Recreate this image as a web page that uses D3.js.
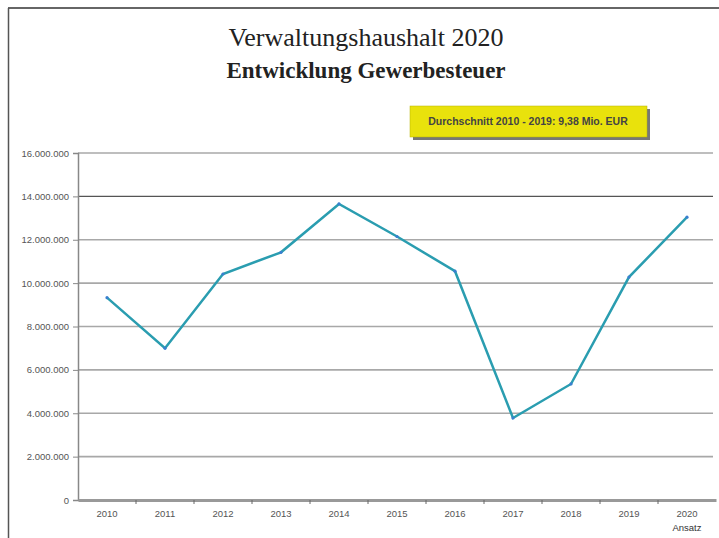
<!DOCTYPE html>
<html>
<head>
<meta charset="utf-8">
<script src="https://cdn.jsdelivr.net/npm/d3@7.9.0/dist/d3.min.js"></script>
<style>
  body { margin: 0; background: #fff; }
  svg { display: block; }
</style>
</head>
<body>
<svg id="chart" width="719" height="538"></svg>
<script>
const years = ['2010', '2011', '2012', '2013', '2014', '2015', '2016', '2017', '2018', '2019', '2020'];
const gewerbesteuer = [9330000, 7000000, 10420000, 11420000, 13650000, 12150000, 10550000, 3780000, 5350000, 10280000, 13040000];
const yTicks = [0, 2000000, 4000000, 6000000, 8000000, 10000000, 12000000, 14000000, 16000000];
const avgText = 'Durchschnitt 2010 - 2019: 9,38 Mio. EUR';

const svg = d3.select('#chart');

// frame lines
svg.append('line').attr('x1', 8).attr('x2', 719).attr('y1', 8).attr('y2', 8)
    .attr('stroke', '#333').attr('stroke-width', 1.5);
svg.append('line').attr('x1', 8.5).attr('x2', 8.5).attr('y1', 8).attr('y2', 538)
    .attr('stroke', '#555').attr('stroke-width', 1.5);

// titles
svg.append('text').attr('x', 366).attr('y', 46).attr('text-anchor', 'middle')
    .attr('font-family', 'Liberation Serif, DejaVu Serif, serif').attr('font-size', 26)
    .attr('fill', '#222').text('Verwaltungshaushalt 2020');
svg.append('text').attr('x', 366).attr('y', 78).attr('text-anchor', 'middle')
    .attr('font-family', 'Liberation Serif, DejaVu Serif, serif').attr('font-size', 23)
    .attr('font-weight', 'bold').attr('fill', '#222').text('Entwicklung Gewerbesteuer');

// average box
svg.append('rect').attr('x', 413).attr('y', 109).attr('width', 237).attr('height', 31).attr('fill', '#777');
svg.append('rect').attr('x', 410).attr('y', 106).attr('width', 237).attr('height', 31)
    .attr('fill', '#e9e20c').attr('stroke', '#b8b200').attr('stroke-width', 0.5);
svg.append('text').attr('x', 528).attr('y', 125).attr('text-anchor', 'middle')
    .attr('font-family', 'Liberation Sans, Arial, sans-serif').attr('font-size', 10.5)
    .attr('font-weight', 'bold').attr('fill', '#444').text(avgText);

const plotLeft = 78, plotRight = 716, plotTop = 153, plotBottom = 500;

const x = d3.scaleBand().domain(years).range([plotLeft, plotRight]);
const y = d3.scaleLinear().domain([0, 16000000]).range([plotBottom, plotTop]);

const fmt = v => d3.format(',')(v).replace(/,/g, '.');

// grid lines
svg.append('g').selectAll('line').data(yTicks.filter(d => d > 0)).join('line')
    .attr('x1', plotLeft).attr('x2', 713)
    .attr('y1', d => y(d)).attr('y2', d => y(d))
    .attr('stroke', d => d === 14000000 ? '#555' : '#a8a8a8')
    .attr('stroke-width', d => d === 14000000 ? 1.2 : 1.6);

// y axis
const yAxis = svg.append('g').attr('transform', `translate(${plotLeft},0)`)
    .call(d3.axisLeft(y).tickValues(yTicks).tickFormat(fmt).tickSize(5).tickPadding(4));
yAxis.select('.domain').attr('stroke', '#888').attr('stroke-width', 1.5);
yAxis.selectAll('.tick line').attr('stroke', '#888');
yAxis.selectAll('text').attr('font-family', 'Liberation Sans, Arial, sans-serif')
    .attr('font-size', 9.5).attr('fill', '#555');

// x axis
const xAxis = svg.append('g').attr('transform', `translate(0,${plotBottom})`)
    .call(d3.axisBottom(x).tickSize(0).tickPadding(10));
xAxis.select('.domain').attr('stroke', '#999').attr('stroke-width', 3);
xAxis.selectAll('text').attr('font-family', 'Liberation Sans, Arial, sans-serif')
    .attr('font-size', 9.5).attr('fill', '#555');
xAxis.selectAll('.sep').data(years.slice(1)).join('line').attr('class', 'sep')
    .attr('x1', d => x(d)).attr('x2', d => x(d)).attr('y1', 0).attr('y2', 4)
    .attr('stroke', '#666');

// Ansatz note
svg.append('text').attr('x', x('2020') + x.bandwidth() / 2).attr('y', 531)
    .attr('text-anchor', 'middle').attr('font-family', 'Liberation Sans, Arial, sans-serif')
    .attr('font-size', 9.5).attr('fill', '#333').text('Ansatz');

// line
const line = d3.line()
    .x((d, i) => x(years[i]) + x.bandwidth() / 2)
    .y(d => y(d));
svg.append('path').datum(gewerbesteuer).attr('d', line)
    .attr('fill', 'none').attr('stroke', '#2a9db0').attr('stroke-width', 2.5)
    .attr('stroke-linejoin', 'miter');
svg.append('g').selectAll('circle').data(gewerbesteuer).join('circle')
    .attr('cx', (d, i) => x(years[i]) + x.bandwidth() / 2)
    .attr('cy', d => y(d)).attr('r', 1.6).attr('fill', '#3a7fd0');
</script>
</body>
</html>
